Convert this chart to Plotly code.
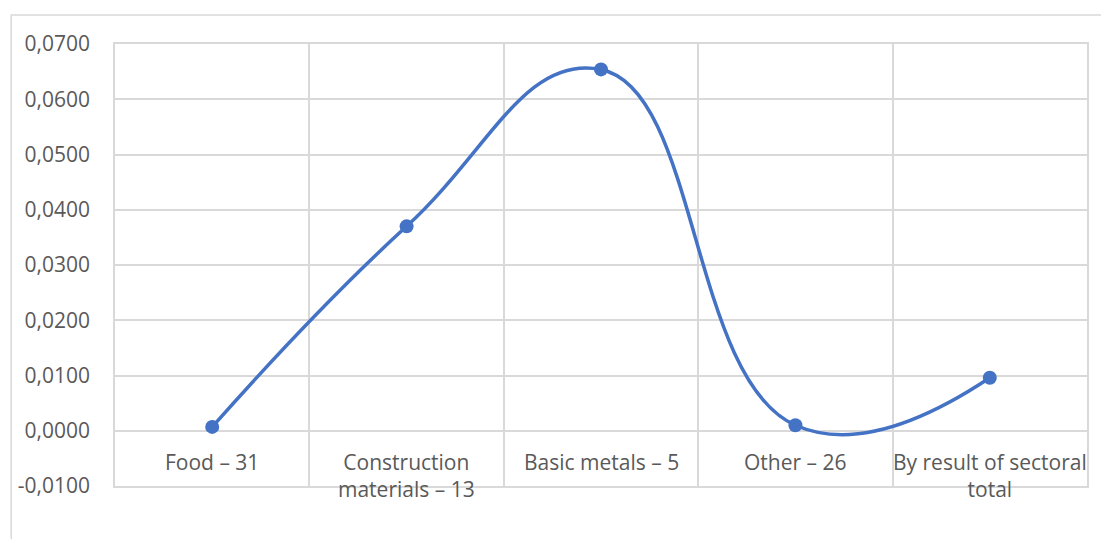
import plotly.graph_objects as go

# Sector categories and index values
categories = ["Food – 31", "Construction<br>materials – 13", "Basic metals – 5",
              "Other – 26", "By result of sectoral<br>total"]
values = [0.0007, 0.0370, 0.0654, 0.0010, 0.0096]

y_ticks = [-0.01, 0.0, 0.01, 0.02, 0.03, 0.04, 0.05, 0.06, 0.07]
y_tick_labels = ["-0,0100", "0,0000", "0,0100", "0,0200", "0,0300",
                 "0,0400", "0,0500", "0,0600", "0,0700"]

FONT = "'Open Sans', Lato, sans-serif"
GRID = "#d9d9d9"
TEXT = "#595959"
BLUE = "#4472C4"

xpos = list(range(len(categories)))

fig = go.Figure()
fig.add_trace(go.Scatter(
    x=xpos, y=values, mode="lines+markers",
    line=dict(color=BLUE, width=3.5, shape="spline", smoothing=1.3),
    marker=dict(color=BLUE, size=14),
    showlegend=False, hoverinfo="skip",
))

# Category labels sit just under the zero line
for xi, label in zip(xpos, categories):
    fig.add_annotation(
        x=xi, y=0, xref="x", yref="y", text=label, showarrow=False,
        yanchor="top", yshift=-15, align="center",
        font=dict(family=FONT, size=21, color=TEXT),
    )

W, H = 1101, 539
L, R, T, B = 115, 12, 44, 53
pw, ph = W - L - R, H - T - B

# Outer chart frame (left and top edges visible)
fig.add_shape(
    type="rect", xref="paper", yref="paper",
    x0=(11 - L) / pw, x1=(W + 20 - L) / pw,
    y0=(H - B - (H + 20)) / ph, y1=(H - B - 15) / ph,
    line=dict(color=GRID, width=1.5), fillcolor="rgba(0,0,0,0)", layer="below",
)

fig.update_layout(
    width=W, height=H,
    margin=dict(l=L, r=R, t=T, b=B),
    paper_bgcolor="white", plot_bgcolor="white",
    font=dict(family=FONT, size=21, color=TEXT),
    xaxis=dict(
        range=[-0.5, len(categories) - 0.5],
        tickvals=[i + 0.5 for i in range(-1, len(categories))],
        showticklabels=False, showgrid=True, gridcolor=GRID, gridwidth=1.5,
        zeroline=False, showline=True, linecolor=GRID, linewidth=1.5, mirror=True,
        ticks="",
    ),
    yaxis=dict(
        range=[-0.01, 0.07],
        tickvals=y_ticks, ticktext=y_tick_labels,
        showgrid=True, gridcolor=GRID, gridwidth=1.5,
        zeroline=True, zerolinecolor=GRID, zerolinewidth=2,
        showline=True, linecolor=GRID, linewidth=1.5, mirror=True,
        ticks="", ticklabelstandoff=19,
        tickfont=dict(family=FONT, size=21, color=TEXT),
    ),
)

fig.write_html("out.html")
